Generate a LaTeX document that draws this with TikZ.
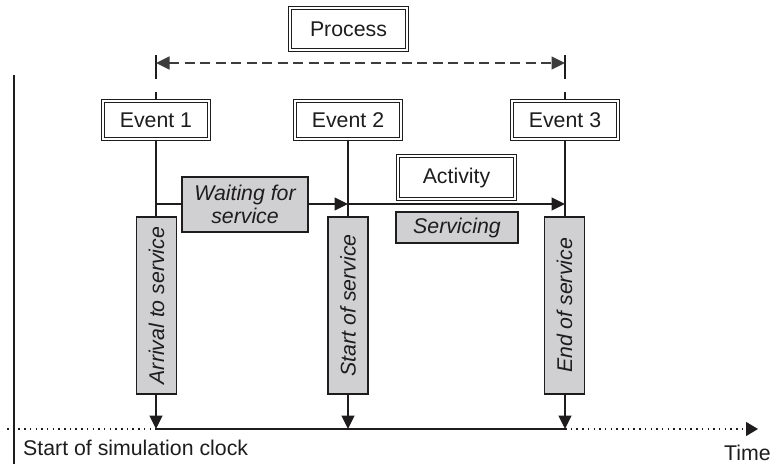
\documentclass[tikz,border=0pt]{standalone}
\usepackage{fontspec}
\setmainfont{Liberation Sans}
\usetikzlibrary{arrows.meta}
\definecolor{ink}{RGB}{30,28,29}
\definecolor{boxgray}{RGB}{208,208,210}
\definecolor{dashgray}{RGB}{60,60,60}
\newcommand\myfs{\fontsize{21.3}{23}\selectfont}
\begin{document}
\begin{tikzpicture}[x=1pt,y=-1pt,
  line/.style={draw=ink,line width=1.35pt},
  dbl/.style={draw=ink,double=white,line width=0.95pt,double distance=1.7pt,inner sep=0pt,font=\myfs,text=ink},
  gbox/.style={draw=ink,fill=boxgray,line width=1.35pt,inner sep=0pt},
  tip/.style={-{Triangle[length=13.5pt,width=13pt]}},
  lbl/.style={font=\myfs\itshape,text=ink,align=center,inner sep=0pt},
  plain/.style={font=\myfs,text=ink,inner sep=0pt},
  dashline/.style={draw=dashgray,line width=1.5pt,dash pattern=on 10pt off 5.5pt},
  dotline/.style={draw=ink,line width=1.2pt,dash pattern=on 1.5pt off 4.2pt}]
\useasboundingbox (0,0) rectangle (774,464);

% double-bordered boxes
\node[dbl,minimum width=117.4pt,minimum height=42.4pt] (proc) at (348.5,29) {Process};
\node[dbl,minimum width=106.4pt,minimum height=38.4pt] (e1) at (156,120) {Event 1};
\node[dbl,minimum width=106.4pt,minimum height=38.4pt] (e2) at (348,120) {Event 2};
\node[dbl,minimum width=106.4pt,minimum height=38.4pt] (e3) at (565,120) {Event 3};
\node[dbl,minimum width=117.4pt,minimum height=43.4pt] (act) at (456.5,177.5) {Activity};

% process span
\coordinate (p1) at (156,63);
\coordinate (p3) at (565,63);
\coordinate (t1a) at (156,55);
\coordinate (t1b) at (156,79);
\coordinate (t1c) at (156,92);
\coordinate (t3a) at (565,55);
\coordinate (t3b) at (565,79);
\coordinate (t3c) at (565,92);
\draw[line] (t1a) -- (t1b);
\draw[line] (t3a) -- (t3b);
\draw[line] (t1c) -- (e1.north);
\draw[line] (t3c) -- (e3.north);
\draw[dashline,{Triangle[length=13.5pt,width=13pt]}-{Triangle[length=13.5pt,width=13pt]}] (p1) -- (p3);

% vertical event boxes
\node[gbox,minimum width=40pt,minimum height=177pt] (arr) at (156.5,305.5) {};
\node[gbox,minimum width=40pt,minimum height=177pt] (sta) at (348,305.5) {};
\node[gbox,minimum width=40pt,minimum height=177pt] (enb) at (564.5,305.5) {};
\node[lbl,rotate=90] (arrt) at (arr.center) {Arrival to service};
\node[lbl,rotate=90] (stat) at (sta.center) {Start of service};
\node[lbl,rotate=90] (enbt) at (enb.center) {End of service};

% event lines
\draw[line] (e1.south) -- (e1.south |- arr.north);
\draw[line] (e2.south) -- (sta.north);
\draw[line] (e3.south) -- (e3.south |- enb.north);

% horizontal activity arrows
\coordinate (h1) at (156,204);
\coordinate (h2) at (348,204);
\coordinate (h3) at (565,204);
\draw[line,tip] (h1) -- (h2);
\draw[line,tip] (h2) -- (h3);

% gray label boxes
\node[gbox,minimum width=126pt,minimum height=55pt] (wait) at (245,204.5) {};
\node[lbl] (waitt) at (wait.center) {Waiting for\\service};
\node[gbox,minimum width=122pt,minimum height=31pt] (serv) at (457,227.5) {};
\node[lbl] (servt) at (serv.center) {Servicing};

% time axis
\coordinate (ax0) at (7,429);
\coordinate (a1) at (156,429);
\coordinate (a2) at (348,429);
\coordinate (a3) at (565,429);
\coordinate (axe) at (758,429);
\draw[line,tip] (a1 |- arr.south) -- (a1);
\draw[line,tip] (sta.south) -- (a2);
\draw[line,tip] (a3 |- enb.south) -- (a3);
\draw[dotline] (ax0) -- (a1);
\draw[line] (a1) -- (a3);
\draw[dotline,-{Triangle[length=12pt,width=14pt]}] (a3) -- (axe);

% left clock line
\coordinate (c0) at (14,75);
\coordinate (c1) at (14,464);
\draw[line] (c0) -- (c1);

\node[plain,anchor=base west] (clk) at (23,455) {Start of simulation clock};
\node[plain,anchor=base west] (time) at (724,460) {Time};
\end{tikzpicture}
\end{document}
